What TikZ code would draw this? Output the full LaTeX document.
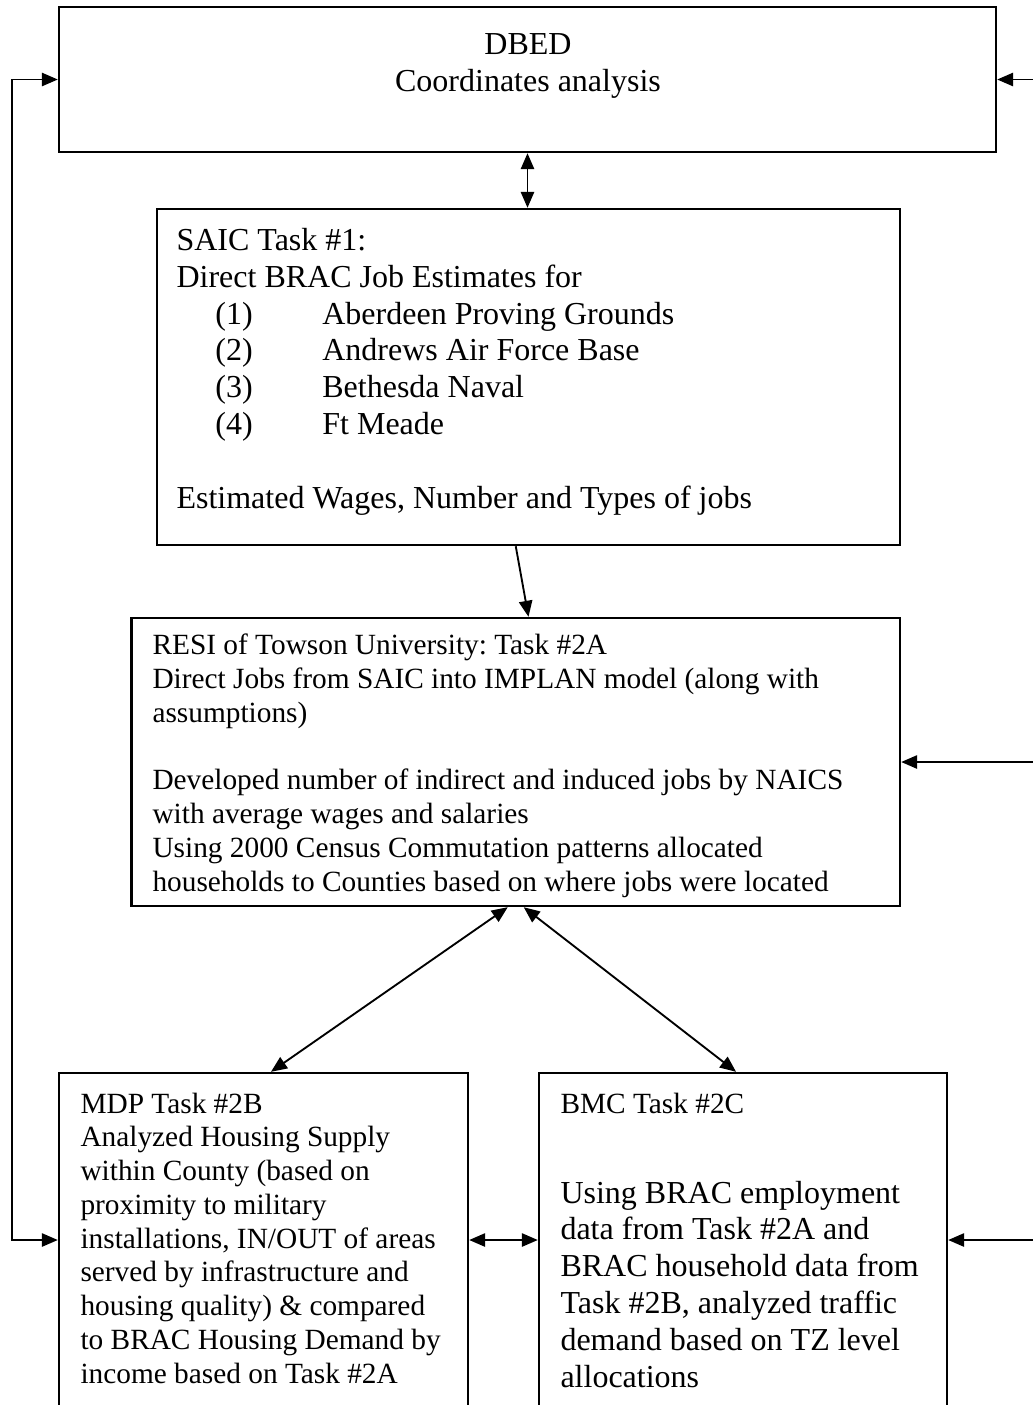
\documentclass[tikz,border=0pt]{standalone}
\usepackage{fontspec}
\setmainfont{Liberation Serif}
\usetikzlibrary{arrows.meta,fit}
\frenchspacing

\tikzset{
  box/.style={draw, line width=0.9pt, inner sep=0pt},
  bigtext/.style={font=\fontsize{12}{13.8}\selectfont, align=left, inner sep=0pt, anchor=base west},
  smalltext/.style={font=\fontsize{11}{12.65}\selectfont, align=left, inner sep=0pt, anchor=base west},
  link/.style={line width=0.7pt, -{Triangle[length=6pt,width=5pt]}},
  twoway/.style={line width=0.7pt, {Triangle[length=6pt,width=5pt]}-{Triangle[length=6pt,width=5pt]}},
}
\newcommand{\siteitem}[2]{\hspace*{14.6pt}\makebox[40.1pt][l]{#1}#2}

\begin{document}
\begin{tikzpicture}[x=0.375pt, y=-0.375pt]
\useasboundingbox (0,0) rectangle (1033,1405);
\clip (0,0) rectangle (1033,1405);

% boxes
\node[box, fit={(59,7) (996,152)}] (dbed) {};
\node[box, fit={(157,209) (900,545)}] (saic) {};
\node[box, fit={(131.5,618) (900,906)}] (resi) {};
\node[box, fit={(59,1073) (468,1407)}] (mdp) {};
\node[box, fit={(539,1073) (947,1407)}] (bmc) {};

% texts (placed at the baseline of their last line)
\node[bigtext, anchor=base, align=center] (dbedtext) at (528,91) {DBED\\Coordinates analysis};
\node[bigtext] (saictext) at (176,508) {SAIC Task \#1:\\
  Direct BRAC Job Estimates for\\
  \siteitem{(1)}{Aberdeen Proving Grounds}\\
  \siteitem{(2)}{Andrews Air Force Base}\\
  \siteitem{(3)}{Bethesda Naval}\\
  \siteitem{(4)}{Ft Meade}\\
  \mbox{}\\
  Estimated Wages, Number and Types of jobs};
\node[smalltext] (resitext) at (152,891) {RESI of Towson University: Task \#2A\\
  Direct Jobs from SAIC into IMPLAN model (along with\\
  assumptions)\\
  \mbox{}\\
  Developed number of indirect and induced jobs by NAICS\\
  with average wages and salaries\\
  Using 2000 Census Commutation patterns allocated\\
  households to Counties based on where jobs were located};
\node[smalltext] (mdptext) at (80,1383) {MDP Task \#2B\\
  Analyzed Housing Supply\\
  within County (based on\\
  proximity to military\\
  installations, IN/OUT of areas\\
  served by infrastructure and\\
  housing quality) \& compared\\
  to BRAC Housing Demand by\\
  income based on Task \#2A};
\node[smalltext] (bmctitle) at (560,1113) {BMC Task \#2C};
\node[bigtext] (bmctext) at (560,1387) {Using BRAC employment\\
  data from Task \#2A and\\
  BRAC household data from\\
  Task \#2B, analyzed traffic\\
  demand based on TZ level\\
  allocations};

% connectors
\coordinate (loopleft) at (12,0);
\coordinate (loopright) at (1045,0);
\draw[twoway] (dbed.south) -- (dbed.south |- saic.north);
\draw[link] (saic.south -| resi.north) -- (resi.north -| saic.south);
\draw[twoway] ([xshift=-3pt]resi.south) -- ([xshift=2.8pt]mdp.north);
\draw[twoway] ([xshift=3pt]resi.south) -- ([xshift=-2.6pt]bmc.north);
\draw[twoway] (mdp.east) -- (bmc.west);
\draw[twoway] (dbed.west) -- (dbed.west -| loopleft) -- (mdp.west -| loopleft) -- (mdp.west);
\draw[link] (dbed.east -| loopright) -- (dbed.east);
\draw[link] (resi.east -| loopright) -- (resi.east);
\draw[link] (bmc.east -| loopright) -- (bmc.east);
\end{tikzpicture}
\end{document}
